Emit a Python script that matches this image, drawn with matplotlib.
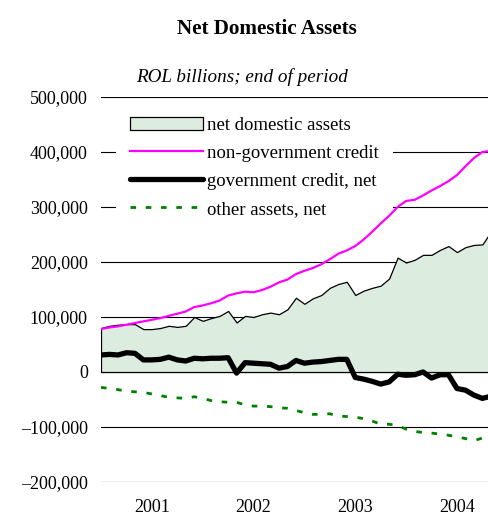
import matplotlib
matplotlib.use("Agg")
import matplotlib.pyplot as plt
import numpy as np
import pandas as pd
from matplotlib.ticker import FuncFormatter, FixedLocator

# ---- data (ROL billions, end of period; monthly Dec 2000 .. Oct 2004) ----
months = pd.period_range("2000-12", periods=47, freq="M")
net_domestic_assets = [80, 84, 86, 87, 87, 78, 78, 80, 84, 82, 84, 100, 93, 98, 102, 111,
                       90, 102, 100, 105, 108, 105, 114, 135, 124, 134, 140, 153, 160, 164,
                       140, 148, 153, 157, 170, 208, 199, 204, 213, 213, 222, 229, 218, 227,
                       231, 232, 255]
non_government_credit = [78, 81, 83, 86, 89, 92, 95, 98, 102, 106, 110, 118, 121, 125, 130,
                         139, 143, 146, 145, 149, 155, 163, 168, 178, 184, 189, 196, 205, 215,
                         221, 229, 241, 255, 270, 284, 300, 311, 313, 321, 330, 338, 347, 358,
                         374, 389, 400, 402]
government_credit_net = [31, 32, 31, 35, 34, 22, 22, 23, 27, 22, 20, 25, 24, 25, 25, 26, -2,
                         17, 16, 15, 14, 7, 10, 21, 16, 18, 19, 21, 23, 23, -10, -13, -17,
                         -22, -18, -4, -6, -5, 0, -11, -5, -5, -30, -33, -42, -48, -44]
other_assets_net = [-28, -30, -32, -35, -36, -37, -40, -43, -46, -47, -48, -45, -48, -52, -54,
                    -55, -55, -60, -62, -62, -63, -65, -66, -70, -74, -77, -77, -76, -80, -81,
                    -82, -85, -89, -95, -95, -97, -104, -108, -110, -111, -113, -115, -118,
                    -121, -125, -120, -110]
year_labels = ["2001", "2002", "2003", "2004"]
y_ticks = [-200000, -100000, 0, 100000, 200000, 300000, 400000, 500000]

scale = 1000
nda = np.array(net_domestic_assets) * scale
ngc = np.array(non_government_credit) * scale
gov = np.array(government_credit_net) * scale
oth = np.array(other_assets_net) * scale
x = np.arange(len(months))
year_pos = [i for i, p in enumerate(months) if p.month == 6 and str(p.year) in year_labels]

plt.rcParams["font.family"] = ["Liberation Serif", "DejaVu Serif"]

fig = plt.figure(figsize=(4.88, 5.16), dpi=100)
ax = fig.add_axes([101 / 488, 34 / 516, 387 / 488, 385 / 516])

for yv in y_ticks:
    ax.axhline(yv, color="black", lw=0.8, zorder=0.5)

fill = ax.fill_between(x, 0, nda, facecolor="#dcecdf", edgecolor="black", lw=0.9, zorder=1,
                       label="net domestic assets")
l1, = ax.plot(x, ngc, color="#ff00ff", lw=1.6, zorder=3, label="non-government credit")
l2, = ax.plot(x, gov, color="black", lw=3.8, zorder=3, solid_capstyle="round",
              solid_joinstyle="round", label="government credit, net")
l3, = ax.plot(x, oth, color="#008000", lw=2.0, zorder=3, linestyle=(0, (2.0, 3.5)),
              label="other assets, net")

ax.set_xlim(0, 387 / 8.475)
ax.set_ylim(-200000, 500000)
for s in ax.spines.values():
    s.set_visible(False)

ax.yaxis.set_major_locator(FixedLocator(y_ticks))
ax.yaxis.set_major_formatter(FuncFormatter(lambda v, p: f"{v:,.0f}".replace("-", "\u2013")))
ax.set_xticks(year_pos)
ax.set_xticklabels(year_labels)
ax.tick_params(axis="both", length=0, labelsize=13)
ax.tick_params(axis="y", pad=9.5)
ax.tick_params(axis="x", pad=12)

leg = ax.legend(handles=[fill, l1, l2, l3], loc="upper left",
                bbox_to_anchor=(15 / 387, 0.985), borderaxespad=0, borderpad=0.75,
                fontsize=13.5, frameon=True, fancybox=False, handlelength=3.9,
                handletextpad=0.22, labelspacing=0.58, handleheight=0.7)
leg.get_frame().set_facecolor("white")
leg.get_frame().set_edgecolor("none")
leg.get_frame().set_alpha(1)
leg.set_zorder(2)

fig.text(267 / 488, 1 - 29 / 516, "Net Domestic Assets", ha="center", va="center",
         fontsize=15.2, fontweight="bold")
fig.text(242 / 488, 1 - 77 / 516, "ROL billions; end of period", ha="center", va="center",
         fontsize=13.8, style="italic")

fig.savefig("out.png", dpi=100)
